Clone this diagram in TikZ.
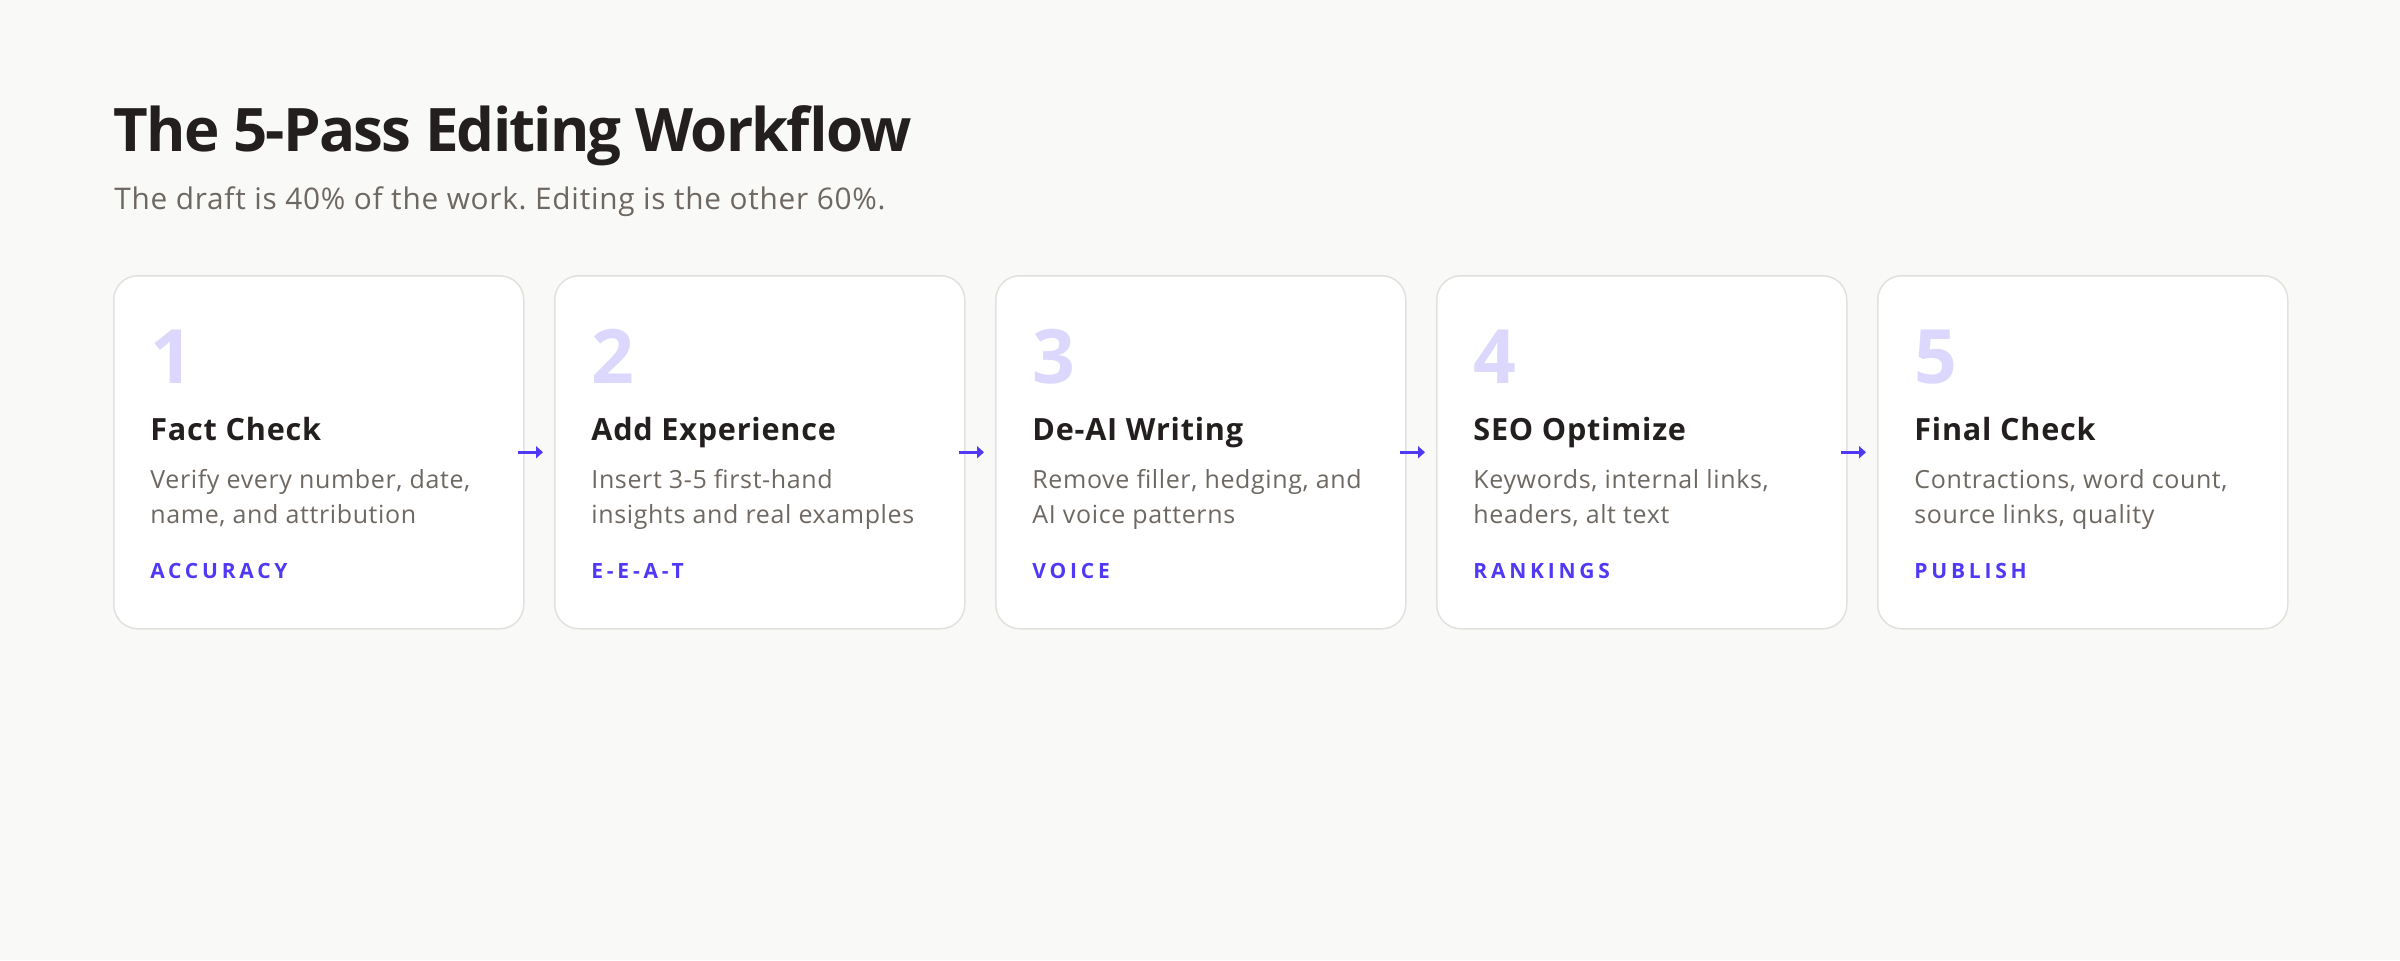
\documentclass[tikz,border=0pt]{standalone}
\usepackage{fontspec}
\setmainfont[LetterSpace=2.5]{Open Sans}
\newfontfamily\tagfont[LetterSpace=18]{Open Sans}
\newfontfamily\titlefont[LetterSpace=-3]{Open Sans}
\frenchspacing
\usetikzlibrary{arrows.meta,calc,positioning}
\definecolor{pagebg}{HTML}{F9F9F7}
\definecolor{ink}{HTML}{231F1E}
\definecolor{muted}{HTML}{6E6863}
\definecolor{accent}{HTML}{4F39F6}
\definecolor{numcol}{HTML}{DCD8FD}
\definecolor{rim}{HTML}{E3E1DE}
\tikzset{
  card/.style={draw=rim, line width=0.75pt, fill=white, rounded corners=12pt,
    minimum width=205pt, minimum height=176.5pt, inner sep=0pt, anchor=north west},
  txt/.style={anchor=base west, inner sep=0pt},
  passnum/.style={txt, text=numcol, font=\fontsize{37.5}{37.5}\selectfont\bfseries},
  passhead/.style={txt, text=ink, font=\fontsize{15.3}{15.3}\selectfont\bfseries},
  passdesc/.style={txt, text=muted, font=\fontsize{12.5}{12.5}\selectfont},
  passtag/.style={txt, text=accent, font=\fontsize{10.5}{10.5}\selectfont\tagfont\bfseries},
  flow/.style={-{Triangle[length=3.5pt,width=6pt]}, line width=1.5pt, draw=accent}
}
\begin{document}
\begin{tikzpicture}[x=0.5pt, y=-0.5pt]
  \def\cardx{113} \def\cardy{275} \def\pitch{441} % px
  \fill[pagebg] (0,0) rectangle (2400,960);
  \node[txt, text=ink, font=\fontsize{30}{30}\selectfont\titlefont\bfseries] (ttl) at (113,151) {The 5-Pass Editing Workflow};
  \node[txt, text=muted, font=\fontsize{14.9}{14.9}\selectfont] (subt) at ($(ttl.base west)+(1,58)$) {The draft is 40\% of the work. Editing is the other 60\%.};
  \foreach \i/\head/\descA/\descB/\tag in {
      1/Fact Check/{Verify every number, date,}/{name, and attribution}/ACCURACY,
      2/Add Experience/Insert 3-5 first-hand/insights and real examples/E-E-A-T,
      3/De-AI Writing/{Remove filler, hedging, and}/AI voice patterns/VOICE,
      4/SEO Optimize/{Keywords, internal links,}/{headers, alt text}/RANKINGS,
      5/Final Check/{Contractions, word count,}/{source links, quality}/PUBLISH}{
    \node[card] (c\i) at ({\cardx+\pitch*(\i-1)},\cardy) {};
    \node[passnum] (n\i) at ($(c\i.north west)+(37,108)$) {\i};
    \node[passhead] (h\i) at ($(c\i.north west)+(37,165)$) {\head};
    \node[passdesc] (da\i) at ($(c\i.north west)+(37,213)$) {\descA};
    \node[passdesc] (db\i) at ($(da\i.base west)+(0,35)$) {\descB};
    \node[passtag] (t\i) at ($(c\i.north west)+(37,303)$) {\tag};
  }
  \foreach \i [count=\j from 2] in {1,...,4}
    \draw[flow] ($(c\i.east)+(-7,0)$) -- ($(c\j.west)+(-11,0)$);
\end{tikzpicture}
\end{document}
